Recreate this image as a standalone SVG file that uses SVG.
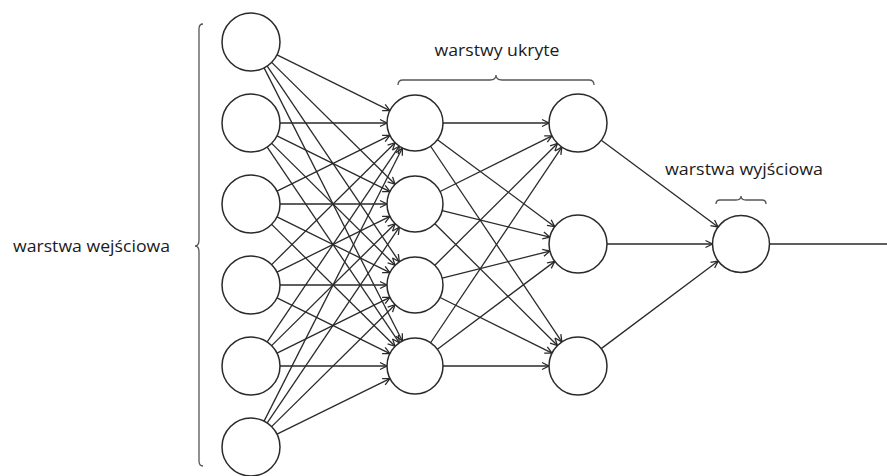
<svg xmlns="http://www.w3.org/2000/svg" width="887" height="476" viewBox="0 0 887 476">
<style>
.node{fill:#fff;stroke:#2a2a2a;stroke-width:1.5}
.edge{stroke:#2a2a2a;stroke-width:1.3;fill:none;marker-end:url(#arr)}
.plain{stroke:#2a2a2a;stroke-width:1.3;fill:none}
.brace{stroke:#555;stroke-width:1.3;fill:none}
.lbl{font-family:"Open Sans","Liberation Sans",sans-serif;font-size:15.5px;fill:#1a1a1a}
</style>
<defs>
<marker id="arr" markerUnits="userSpaceOnUse" orient="auto" refX="0" refY="0" markerWidth="10" markerHeight="10" overflow="visible">
<path d="M-7,-3.5 L0,0 L-7,3.5" fill="none" stroke="#2a2a2a" stroke-width="1.3"/>
</marker>
</defs>
<rect width="887" height="476" fill="#fff"/>
<g id="connectors">
<line class="edge" x1="277" y1="54.84" x2="389.9" y2="110.6"/>
<line class="edge" x1="271.63" y1="62.38" x2="395.08" y2="184.32"/>
<line class="edge" x1="267.22" y1="66.04" x2="399.34" y2="261.79"/>
<line class="edge" x1="264.1" y1="67.87" x2="402.36" y2="341.02"/>
<line class="edge" x1="280" y1="123" x2="387" y2="123"/>
<line class="edge" x1="277" y1="135.84" x2="389.9" y2="191.6"/>
<line class="edge" x1="271.63" y1="143.38" x2="395.08" y2="265.32"/>
<line class="edge" x1="267.22" y1="147.04" x2="399.34" y2="342.79"/>
<line class="edge" x1="277" y1="191.16" x2="389.9" y2="135.4"/>
<line class="edge" x1="280" y1="204" x2="387" y2="204"/>
<line class="edge" x1="277" y1="216.84" x2="389.9" y2="272.6"/>
<line class="edge" x1="271.63" y1="224.38" x2="395.08" y2="346.32"/>
<line class="edge" x1="271.63" y1="264.62" x2="395.08" y2="142.68"/>
<line class="edge" x1="277" y1="272.16" x2="389.9" y2="216.4"/>
<line class="edge" x1="280" y1="285" x2="387" y2="285"/>
<line class="edge" x1="277" y1="297.84" x2="389.9" y2="353.6"/>
<line class="edge" x1="267.22" y1="341.96" x2="399.34" y2="146.21"/>
<line class="edge" x1="271.63" y1="345.62" x2="395.08" y2="223.68"/>
<line class="edge" x1="277" y1="353.16" x2="389.9" y2="297.4"/>
<line class="edge" x1="280" y1="366" x2="387" y2="366"/>
<line class="edge" x1="264.1" y1="421.13" x2="402.36" y2="147.98"/>
<line class="edge" x1="267.22" y1="422.96" x2="399.34" y2="227.21"/>
<line class="edge" x1="271.63" y1="426.62" x2="395.08" y2="304.68"/>
<line class="edge" x1="277" y1="434.16" x2="389.9" y2="378.6"/>
<line class="edge" x1="443" y1="123" x2="549" y2="123"/>
<line class="edge" x1="437.48" y1="139.69" x2="554.71" y2="226.71"/>
<line class="edge" x1="430.6" y1="146.25" x2="561.84" y2="341.92"/>
<line class="edge" x1="440.07" y1="191.54" x2="552.03" y2="135.91"/>
<line class="edge" x1="442.19" y1="210.67" x2="549.84" y2="237.09"/>
<line class="edge" x1="434.86" y1="223.74" x2="557.43" y2="345.56"/>
<line class="edge" x1="434.86" y1="265.26" x2="557.43" y2="143.44"/>
<line class="edge" x1="442.15" y1="278.17" x2="549.88" y2="251.07"/>
<line class="edge" x1="440.07" y1="297.46" x2="552.03" y2="353.09"/>
<line class="edge" x1="430.6" y1="342.75" x2="561.84" y2="147.08"/>
<line class="edge" x1="437.42" y1="349.22" x2="554.78" y2="261.38"/>
<line class="edge" x1="443" y1="366" x2="549" y2="366"/>
<line class="edge" x1="601.29" y1="140.29" x2="718.11" y2="227.01"/>
<line class="edge" x1="607" y1="244" x2="712.5" y2="244"/>
<line class="edge" x1="601.22" y1="348.62" x2="718.18" y2="261.08"/>
<line class="plain" x1="769.5" y1="244" x2="887" y2="244"/>
</g>
<g id="input-layer">
<g id="in1"><circle class="node" cx="251" cy="42" r="29"/></g>
<g id="in2"><circle class="node" cx="251" cy="123" r="29"/></g>
<g id="in3"><circle class="node" cx="251" cy="204" r="29"/></g>
<g id="in4"><circle class="node" cx="251" cy="285" r="29"/></g>
<g id="in5"><circle class="node" cx="251" cy="366" r="29"/></g>
<g id="in6"><circle class="node" cx="251" cy="447" r="29"/></g>
</g>
<g id="hidden-layer-1">
<g id="h1a"><circle class="node" cx="415" cy="123" r="28"/></g>
<g id="h1b"><circle class="node" cx="415" cy="204" r="28"/></g>
<g id="h1c"><circle class="node" cx="415" cy="285" r="28"/></g>
<g id="h1d"><circle class="node" cx="415" cy="366" r="28"/></g>
</g>
<g id="hidden-layer-2">
<g id="h2a"><circle class="node" cx="578" cy="123" r="29"/></g>
<g id="h2b"><circle class="node" cx="578" cy="244" r="29"/></g>
<g id="h2c"><circle class="node" cx="578" cy="366" r="29"/></g>
</g>
<g id="output-layer">
<g id="out"><circle class="node" cx="741" cy="244" r="28.5"/></g>
</g>
<g id="labels">
<g id="input-label">
<path class="brace" d="M203,24 Q199,24 199,29 L199,240 Q199,246 195,246 Q199,246 199,252 L199,461 Q199,466 203,466"/>
<text class="lbl" x="13" y="252" textLength="157" lengthAdjust="spacingAndGlyphs">warstwa wejściowa</text>
</g>
<g id="hidden-label">
<path class="brace" d="M398,85 Q398,80 403,80 L490,80 Q496,80 496,75 Q496,80 502,80 L589,80 Q594,80 594,85"/>
<text class="lbl" x="434.5" y="56" textLength="125" lengthAdjust="spacingAndGlyphs">warstwy ukryte</text>
</g>
<g id="output-label">
<path class="brace" d="M716,204 Q716,200 720,200 L736,200 Q741,200 741,196 Q741,200 746,200 L762,200 Q766,200 766,204"/>
<text class="lbl" x="665" y="175" textLength="158" lengthAdjust="spacingAndGlyphs">warstwa wyjściowa</text>
</g>
</g>
</svg>
